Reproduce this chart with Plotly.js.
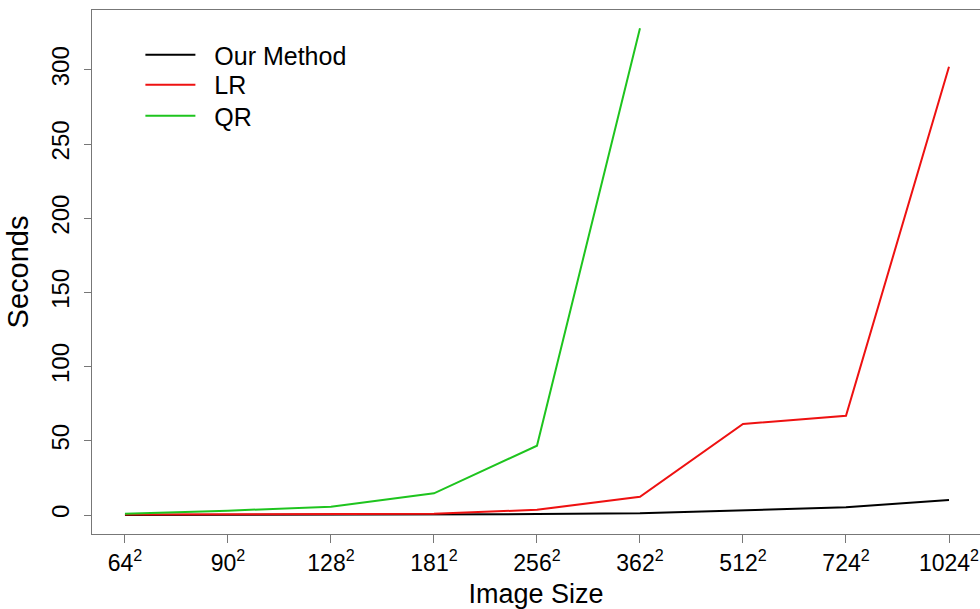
<!DOCTYPE html>
<html>
<head>
<meta charset="utf-8">
<script src="https://cdn.plot.ly/plotly-3.0.1.min.js"></script>
<style>html,body{margin:0;padding:0;background:#fff;}#chart{width:980px;height:609px;}</style>
</head>
<body>
<div id="chart"></div>
<script>
const sizes = ["64", "90", "128", "181", "256", "362", "512", "724", "1024"];
const ourMethod = [0.05, 0.1, 0.15, 0.3, 0.6, 1.1, 2.9, 5.2, 10.1];
const lr = [0.3, 0.4, 0.5, 0.8, 3.5, 12.3, 61.3, 66.9, 302];
const qr = [0.9, 2.9, 5.6, 14.6, 46.7, 328];
const yTicks = [0, 50, 100, 150, 200, 250, 300];

const idx = sizes.map((_, i) => i);
const tickText = sizes.map(s => s + "<sup>2</sup>");
const font = "Liberation Sans, Arial, Helvetica, sans-serif";
const pad = "\u00a0\u00a0";

const traces = [
  {x: idx, y: ourMethod, name: pad + "Our Method", mode: "lines", line: {color: "#000000", width: 2}, legend: "legend"},
  {x: idx, y: lr, name: pad + "LR", mode: "lines", line: {color: "#ee1111", width: 2}, legend: "legend2"},
  {x: idx.slice(0, qr.length), y: qr, name: pad + "QR", mode: "lines", line: {color: "#1ec41e", width: 2}, legend: "legend3"}
];

function leg(y) {
  return {x: 0.0545, y: y, xanchor: "left", yanchor: "top", bgcolor: "rgba(0,0,0,0)",
          font: {size: 25, family: font}, itemwidth: 50};
}

const layout = {
  width: 980, height: 609,
  margin: {l: 92, r: 0, t: 10, b: 75},
  paper_bgcolor: "#ffffff", plot_bgcolor: "#ffffff",
  font: {family: font, color: "#000", size: 23},
  showlegend: true,
  legend: leg(0.958),
  legend2: leg(0.9008),
  legend3: leg(0.8416),
  xaxis: {
    range: [-0.32, 8.301], tickmode: "array", tickvals: idx, ticktext: tickText,
    showgrid: false, zeroline: false, showline: true, mirror: true, linecolor: "#777", linewidth: 1.3,
    ticks: "outside", ticklen: 8, tickcolor: "#777", tickwidth: 1, automargin: false,
    tickfont: {size: 23, family: font},
    title: {text: "Image Size", font: {size: 27, family: font}, standoff: 16}
  },
  yaxis: {
    range: [-12.8, 340.3], tickmode: "array", tickvals: yTicks, ticktext: yTicks.map(String),
    showgrid: false, zeroline: false, showline: true, mirror: true, linecolor: "#777", linewidth: 1.3,
    ticks: "outside", ticklen: 7, tickcolor: "#777", tickwidth: 1, tickangle: -90, automargin: false,
    ticklabelstandoff: 5,
    tickfont: {size: 24, family: font},
    title: {text: "Seconds", font: {size: 29, family: font}, standoff: 10}
  }
};

Plotly.newPlot("chart", traces, layout, {staticPlot: true, displayModeBar: false});
</script>
</body>
</html>
